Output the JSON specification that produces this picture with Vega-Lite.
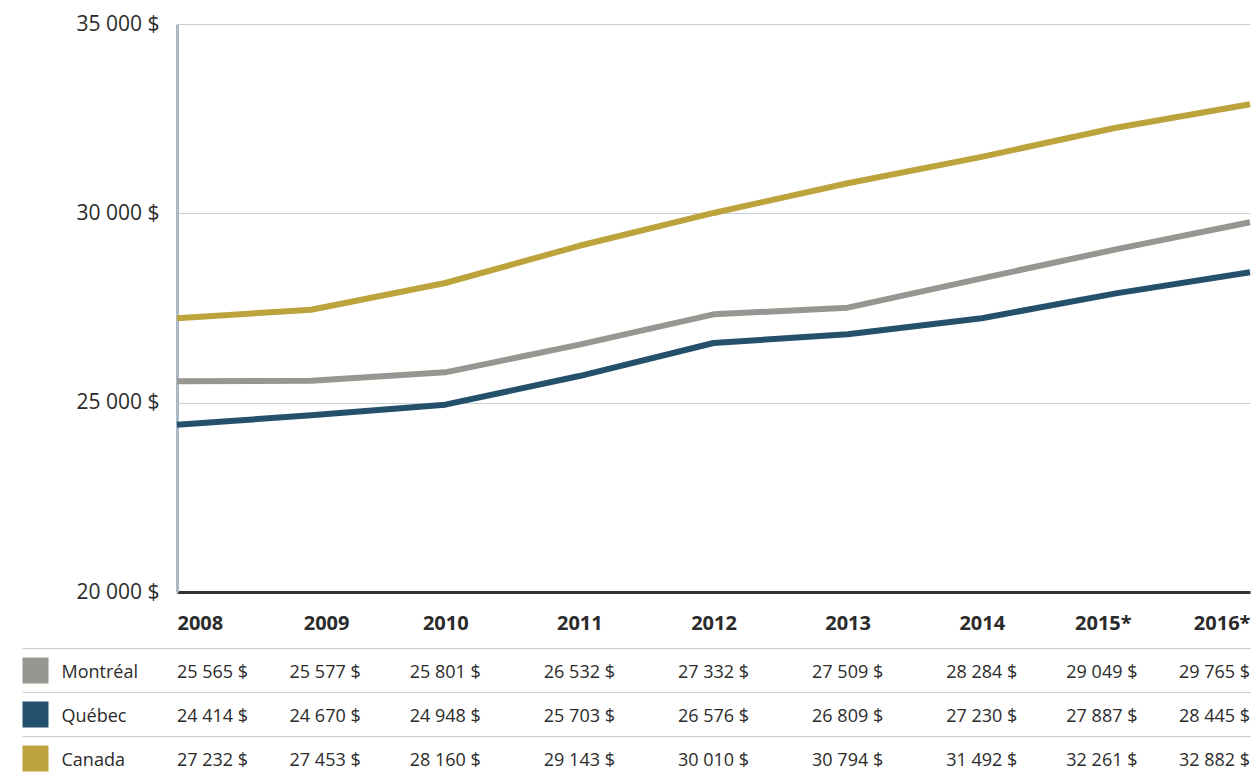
{
  "$schema": "https://vega.github.io/schema/vega-lite/v6.json",
  "padding": {"left": 9, "top": 13, "right": 0, "bottom": 0},
  "background": "white",
  "config": {
    "locale": {"number": {"decimal": ",", "thousands": " ", "grouping": [3], "currency": ["", " $"]}},
    "view": {"stroke": null},
    "font": "Open Sans"
  },
  "datasets": {
    "revenu": [
      {"series": "Montréal", "year": 2008, "value": 25565},
      {"series": "Montréal", "year": 2009, "value": 25577},
      {"series": "Montréal", "year": 2010, "value": 25801},
      {"series": "Montréal", "year": 2011, "value": 26532},
      {"series": "Montréal", "year": 2012, "value": 27332},
      {"series": "Montréal", "year": 2013, "value": 27509},
      {"series": "Montréal", "year": 2014, "value": 28284},
      {"series": "Montréal", "year": 2015, "value": 29049},
      {"series": "Montréal", "year": 2016, "value": 29765},
      {"series": "Québec", "year": 2008, "value": 24414},
      {"series": "Québec", "year": 2009, "value": 24670},
      {"series": "Québec", "year": 2010, "value": 24948},
      {"series": "Québec", "year": 2011, "value": 25703},
      {"series": "Québec", "year": 2012, "value": 26576},
      {"series": "Québec", "year": 2013, "value": 26809},
      {"series": "Québec", "year": 2014, "value": 27230},
      {"series": "Québec", "year": 2015, "value": 27887},
      {"series": "Québec", "year": 2016, "value": 28445},
      {"series": "Canada", "year": 2008, "value": 27232},
      {"series": "Canada", "year": 2009, "value": 27453},
      {"series": "Canada", "year": 2010, "value": 28160},
      {"series": "Canada", "year": 2011, "value": 29143},
      {"series": "Canada", "year": 2012, "value": 30010},
      {"series": "Canada", "year": 2013, "value": 30794},
      {"series": "Canada", "year": 2014, "value": 31492},
      {"series": "Canada", "year": 2015, "value": 32261},
      {"series": "Canada", "year": 2016, "value": 32882}
    ]
  },
  "bounds": "flush",
  "spacing": 56,
  "vconcat": [
    {
      "width": 1073,
      "height": 568,
      "data": {"name": "revenu"},
      "mark": {"type": "line", "strokeWidth": 6, "strokeCap": "butt", "strokeJoin": "round"},
      "encoding": {
        "x": {
          "field": "year", "type": "quantitative",
          "scale": {"domain": [2008, 2016], "nice": false, "zero": false},
          "axis": {
            "values": [2008, 2009, 2010, 2011, 2012, 2013, 2014, 2015, 2016],
            "format": "d",
            "labelExpr": "datum.value >= 2015 ? datum.label + '*' : datum.label",
            "title": null, "grid": false, "ticks": false,
            "domainColor": "#333333", "domainWidth": 3,
            "labelFontSize": 20, "labelFontWeight": "bold", "labelColor": "#2b2b2b",
            "labelPadding": 21, "labelFlush": true,
            "labelOffset": {
              "condition": [
                {"test": "datum.value == 2009", "value": 15},
                {"test": "datum.value == 2015", "value": -13}
              ],
              "value": 0
            }
          }
        },
        "y": {
          "field": "value", "type": "quantitative",
          "scale": {"domain": [20000, 35000], "nice": false, "zero": false},
          "axis": {
            "values": [20000, 25000, 30000, 35000],
            "format": "$,.0f",
            "title": null, "ticks": false,
            "domainColor": "#a9b9c6", "domainWidth": 3,
            "gridColor": "#c7d0d8", "gridWidth": 1,
            "labelFontSize": 21, "labelColor": "#2b2b2b", "labelPadding": 18
          }
        },
        "color": {
          "field": "series", "type": "nominal",
          "scale": {"domain": ["Montréal", "Québec", "Canada"], "range": ["#979690", "#24506c", "#bda33c"]},
          "legend": null
        }
      }
    },
    {
      "width": 1073,
      "height": 132,
      "data": {"name": "revenu"},
      "layer": [
        {
          "transform": [{"filter": "datum.year == 2008"}],
          "mark": {"type": "text", "align": "left", "baseline": "middle", "dy": 3, "fontSize": 18, "font": "Open Sans", "color": "#2b2b2b"},
          "encoding": {
            "x": {"field": "year", "type": "quantitative", "scale": {"domain": [2008, 2016], "nice": false, "zero": false}, "axis": null},
            "y": {
              "field": "series", "type": "nominal", "sort": ["Montréal", "Québec", "Canada"],
              "scale": {"type": "band", "domain": ["Montréal", "Québec", "Canada"], "paddingInner": 0, "paddingOuter": 0},
              "axis": {
                "orient": "left", "offset": 129, "domain": false, "grid": false,
                "ticks": true, "tickSize": 26, "tickWidth": 26, "tickCap": "butt", "tickBand": "center",
                "tickColor": {
                  "condition": [
                    {"test": "datum.value === 'Montréal'", "value": "#979690"},
                    {"test": "datum.value === 'Québec'", "value": "#24506c"}
                  ],
                  "value": "#bda33c"
                },
                "labelAlign": "left", "labelBaseline": "middle", "labelPadding": -39, "labelOffset": 3,
                "labelFontSize": 18, "labelColor": "#2b2b2b", "labelFont": "Open Sans",
                "title": null
              }
            },
            "text": {"field": "value", "type": "quantitative", "format": "$,.0f"}
          }
        },
        {
          "transform": [{"filter": "datum.year == 2009"}],
          "mark": {"type": "text", "align": "center", "baseline": "middle", "dx": 14, "dy": 3, "fontSize": 18, "font": "Open Sans", "color": "#2b2b2b"},
          "encoding": {
            "x": {"field": "year", "type": "quantitative", "scale": {"domain": [2008, 2016], "nice": false, "zero": false}, "axis": null},
            "y": {
              "field": "series", "type": "nominal", "sort": ["Montréal", "Québec", "Canada"],
              "scale": {"type": "band", "domain": ["Montréal", "Québec", "Canada"], "paddingInner": 0, "paddingOuter": 0},
              "axis": null
            },
            "text": {"field": "value", "type": "quantitative", "format": "$,.0f"}
          }
        },
        {
          "transform": [{"filter": "datum.year > 2009 && datum.year < 2015"}],
          "mark": {"type": "text", "align": "center", "baseline": "middle", "dy": 3, "fontSize": 18, "font": "Open Sans", "color": "#2b2b2b"},
          "encoding": {
            "x": {"field": "year", "type": "quantitative", "scale": {"domain": [2008, 2016], "nice": false, "zero": false}, "axis": null},
            "y": {
              "field": "series", "type": "nominal", "sort": ["Montréal", "Québec", "Canada"],
              "scale": {"type": "band", "domain": ["Montréal", "Québec", "Canada"], "paddingInner": 0, "paddingOuter": 0},
              "axis": {
                "orient": "left", "offset": 0, "domain": false, "labels": false,
                "ticks": true, "tickSize": 155, "tickWidth": 1, "tickColor": "#c3ccd4", "tickBand": "extent",
                "grid": true, "gridColor": "#c3ccd4", "gridWidth": 1,
                "title": null
              }
            },
            "text": {"field": "value", "type": "quantitative", "format": "$,.0f"}
          }
        },
        {
          "transform": [{"filter": "datum.year == 2015"}],
          "mark": {"type": "text", "align": "center", "baseline": "middle", "dx": -14, "dy": 3, "fontSize": 18, "font": "Open Sans", "color": "#2b2b2b"},
          "encoding": {
            "x": {"field": "year", "type": "quantitative", "scale": {"domain": [2008, 2016], "nice": false, "zero": false}, "axis": null},
            "y": {
              "field": "series", "type": "nominal", "sort": ["Montréal", "Québec", "Canada"],
              "scale": {"type": "band", "domain": ["Montréal", "Québec", "Canada"], "paddingInner": 0, "paddingOuter": 0},
              "axis": null
            },
            "text": {"field": "value", "type": "quantitative", "format": "$,.0f"}
          }
        },
        {
          "transform": [{"filter": "datum.year == 2016"}],
          "mark": {"type": "text", "align": "right", "baseline": "middle", "dy": 3, "fontSize": 18, "font": "Open Sans", "color": "#2b2b2b"},
          "encoding": {
            "x": {"field": "year", "type": "quantitative", "scale": {"domain": [2008, 2016], "nice": false, "zero": false}, "axis": null},
            "y": {
              "field": "series", "type": "nominal", "sort": ["Montréal", "Québec", "Canada"],
              "scale": {"type": "band", "domain": ["Montréal", "Québec", "Canada"], "paddingInner": 0, "paddingOuter": 0},
              "axis": null
            },
            "text": {"field": "value", "type": "quantitative", "format": "$,.0f"}
          }
        }
      ],
      "resolve": {"scale": {"y": "independent"}, "axis": {"y": "independent"}}
    }
  ]
}
